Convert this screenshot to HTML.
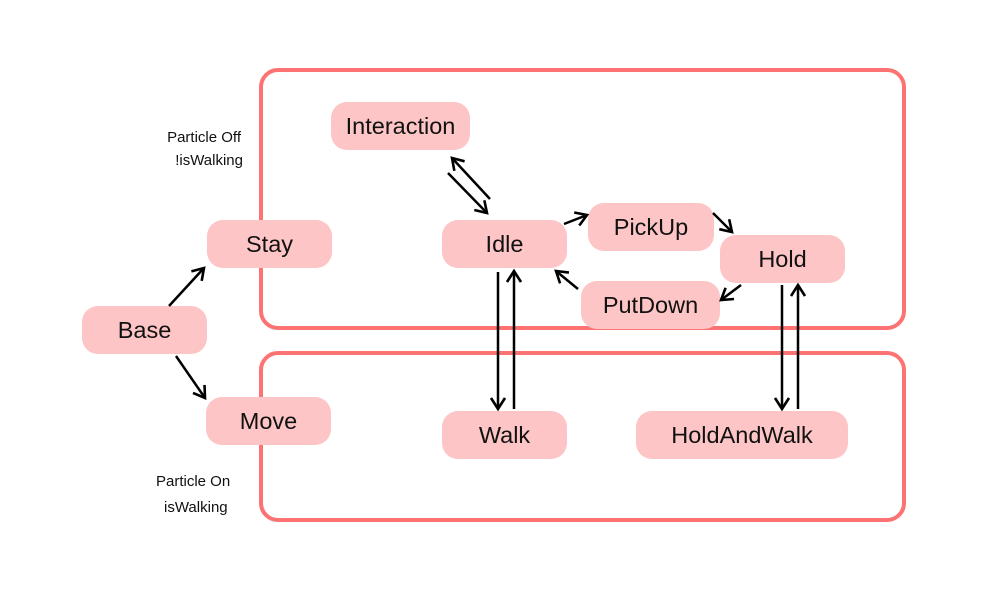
<!DOCTYPE html>
<html><head><meta charset="utf-8"><style>
html,body{margin:0;padding:0;background:#fff}
svg{display:block}
text{font-family:"Liberation Sans",sans-serif}
</style></head><body>
<svg width="988" height="592" viewBox="0 0 988 592" xmlns="http://www.w3.org/2000/svg">
<defs>
<marker id="a" viewBox="0 0 16 16" refX="13" refY="8" markerWidth="16" markerHeight="16" markerUnits="userSpaceOnUse" orient="auto">
<polyline points="2,1 13,8 2,15" fill="none" stroke="#000" stroke-width="2.6"/>
</marker>
</defs>
<rect x="261" y="70" width="643" height="258" rx="17" fill="none" stroke="#fd7373" stroke-width="4"/>
<rect x="261" y="353" width="643" height="167" rx="17" fill="none" stroke="#fd7373" stroke-width="4"/>
<g fill="#fdc5c5">
<rect x="82" y="306" width="125" height="48" rx="16"/>
<rect x="207" y="220" width="125" height="48" rx="16"/>
<rect x="206" y="397" width="125" height="48" rx="16"/>
<rect x="331" y="102" width="139" height="48" rx="16"/>
<rect x="442" y="220" width="125" height="48" rx="16"/>
<rect x="588" y="203" width="126" height="48" rx="16"/>
<rect x="720" y="235" width="125" height="48" rx="16"/>
<rect x="581" y="281" width="139" height="48" rx="16"/>
<rect x="442" y="411" width="125" height="48" rx="16"/>
<rect x="636" y="411" width="212" height="48" rx="16"/>
</g>
<g font-size="23.5" fill="#111" text-anchor="middle">
<text x="144.5" y="338">Base</text>
<text x="269.5" y="252">Stay</text>
<text x="268.5" y="429">Move</text>
<text x="400.5" y="134">Interaction</text>
<text x="504.5" y="252">Idle</text>
<text x="651" y="235">PickUp</text>
<text x="782.5" y="267">Hold</text>
<text x="650.5" y="313">PutDown</text>
<text x="504.5" y="443">Walk</text>
<text x="742" y="443">HoldAndWalk</text>
</g>
<g font-size="15" fill="#111">
<text x="241" y="142" text-anchor="end">Particle Off</text>
<text x="243" y="165" text-anchor="end">!isWalking</text>
<text x="156" y="486">Particle On</text>
<text x="164" y="512">isWalking</text>
</g>
<g stroke="#000" stroke-width="2.5" fill="none" marker-end="url(#a)">
<line x1="169" y1="306" x2="204" y2="268"/>
<line x1="176" y1="356" x2="205" y2="398"/>
<line x1="448" y1="173" x2="487" y2="213"/>
<line x1="490" y1="199" x2="452" y2="158"/>
<line x1="564" y1="224" x2="587" y2="215"/>
<line x1="713" y1="213" x2="732" y2="232"/>
<line x1="741" y1="285" x2="721" y2="300"/>
<line x1="578" y1="289" x2="556" y2="271"/>
<line x1="498" y1="272" x2="498" y2="409"/>
<line x1="514" y1="409" x2="514" y2="271"/>
<line x1="782" y1="285" x2="782" y2="409"/>
<line x1="798" y1="409" x2="798" y2="285"/>
</g>
</svg>
</body></html>
